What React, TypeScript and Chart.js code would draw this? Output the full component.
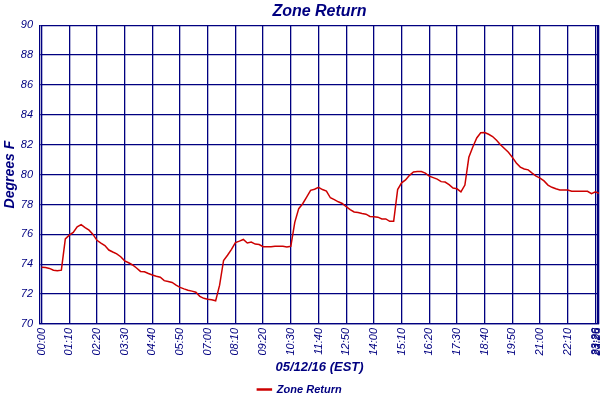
import { useEffect, useRef } from 'react'
import { Chart, registerables } from 'chart.js'

Chart.register(...registerables)

// minutes after midnight, 10 minute samples, last reading at 23:29
const minutes = [
  ...Array.from({ length: 141 }, (_, i) => i * 10),
  1409
]

const zoneReturn = [
  73.8, 73.78, 73.72, 73.6, 73.56, 73.6, 75.7, 75.95, 76.13, 76.5,
  76.65, 76.45, 76.28, 76.0, 75.6, 75.42, 75.25, 74.95, 74.82, 74.7,
  74.5, 74.23, 74.1, 73.95, 73.75, 73.52, 73.5, 73.38, 73.28, 73.2,
  73.13, 72.9, 72.85, 72.78, 72.6, 72.45, 72.35, 72.26, 72.2, 72.13,
  71.85, 71.72, 71.66, 71.62, 71.55, 72.6, 74.25, 74.6, 75.0, 75.45,
  75.55, 75.66, 75.42, 75.48, 75.35, 75.32, 75.17, 75.17, 75.17, 75.21,
  75.21, 75.2, 75.15, 75.2, 76.8, 77.72, 78.05, 78.5, 78.95, 79.02,
  79.15, 79.0, 78.9, 78.45, 78.32, 78.18, 78.07, 77.85, 77.65, 77.5,
  77.46, 77.4, 77.35, 77.2, 77.18, 77.15, 77.03, 77.03, 76.87, 76.87,
  79.0, 79.45, 79.64, 79.95, 80.18, 80.2, 80.2, 80.1, 79.9, 79.8,
  79.7, 79.53, 79.5, 79.33, 79.1, 79.05, 78.85, 79.3, 81.16, 81.85,
  82.45, 82.8, 82.82, 82.7, 82.55, 82.3, 82.0, 81.75, 81.5, 81.15,
  80.78, 80.5, 80.38, 80.32, 80.1, 79.9, 79.77, 79.58, 79.3, 79.15,
  79.05, 78.97, 78.97, 78.97, 78.88, 78.88, 78.88, 78.88, 78.88, 78.72,
  78.85, 78.74
]

const tickMinutes = [
  0, 70, 140, 210, 280, 350, 420, 490, 560, 630, 700,
  770, 840, 910, 980, 1050, 1120, 1190, 1260, 1330, 1400, 1405, 1409
]
const tickLabels = [
  '00:00', '01:10', '02:20', '03:30', '04:40', '05:50', '07:00', '08:10', '09:20', '10:30', '11:40',
  '12:50', '14:00', '15:10', '16:20', '17:30', '18:40', '19:50', '21:00', '22:10', '23:20', '23:25', '23:29'
]

const navy = '#000080'
const sans = "'Liberation Sans', Arial, sans-serif"

// center the title over the plot area rather than the whole canvas
const titleOverPlot = {
  id: 'titleOverPlot',
  afterLayout: (chart) => {
    if (chart.titleBlock) {
      chart.titleBlock.left = chart.chartArea.left
      chart.titleBlock.right = chart.chartArea.right
      chart.titleBlock.width = chart.chartArea.right - chart.chartArea.left
    }
  }
}

const App = () => {
  const chartRef = useRef(null)
  const chartInstance = useRef(null)

  useEffect(() => {
    document.body.style.margin = '0'
    if (chartRef && chartRef.current) {
      const ctx = chartRef.current.getContext('2d')

      if (chartInstance.current) {
        chartInstance.current.destroy()
      }

      chartInstance.current = new Chart(ctx, {
        type: 'line',
        data: {
          datasets: [
            {
              label: 'Zone Return',
              data: minutes.map((m, i) => ({ x: m, y: zoneReturn[i] })),
              borderColor: '#cc0000',
              backgroundColor: '#cc0000',
              borderWidth: 1.5,
              pointRadius: 0,
              tension: 0,
              fill: false
            }
          ]
        },
        plugins: [titleOverPlot],
        options: {
          responsive: false,
          animation: false,
          layout: {
            padding: { top: 2, right: 1, bottom: -5, left: 0 }
          },
          plugins: {
            title: {
              display: true,
              text: 'Zone Return',
              color: navy,
              font: { family: sans, size: 16, weight: 'bold', style: 'italic' },
              padding: { top: 0, bottom: 4 }
            },
            legend: {
              position: 'bottom',
              labels: {
                color: navy,
                boxWidth: 14,
                boxHeight: 1,
                padding: 4,
                font: { family: sans, size: 11, weight: 'bold', style: 'italic' }
              }
            },
            tooltip: { enabled: false }
          },
          scales: {
            x: {
              type: 'linear',
              min: -4,
              max: 1409,
              afterBuildTicks: (axis) => {
                axis.ticks = tickMinutes.map((v) => ({ value: v }))
              },
              afterFit: (axis) => {
                axis.height = 56
                axis.paddingLeft = 0
                axis.paddingRight = 0
              },
              ticks: {
                autoSkip: false,
                minRotation: 90,
                maxRotation: 90,
                padding: 4,
                color: navy,
                font: { family: sans, size: 11, style: 'italic' },
                callback: (value) => tickLabels[tickMinutes.indexOf(value)] ?? ''
              },
              grid: { color: navy, lineWidth: 1.3, drawTicks: false },
              border: { color: navy, width: 1.3 },
              title: {
                display: true,
                text: '05/12/16 (EST)',
                color: navy,
                font: { family: sans, size: 13, weight: 'bold', style: 'italic' },
                padding: { top: 0, bottom: 5 }
              }
            },
            y: {
              min: 70,
              max: 90,
              afterFit: (axis) => {
                axis.width = 40
              },
              ticks: {
                stepSize: 2,
                padding: 7,
                color: navy,
                font: { family: sans, size: 11, style: 'italic' }
              },
              grid: { color: navy, lineWidth: 1.3, drawTicks: false },
              border: { color: navy, width: 1.3 },
              title: {
                display: true,
                text: 'Degrees F',
                color: navy,
                font: { family: sans, size: 14, weight: 'bold', style: 'italic' },
                padding: { top: 2, bottom: 0 }
              }
            }
          }
        }
      })
    }

    return () => {
      if (chartInstance.current) {
        chartInstance.current.destroy()
      }
    }
  }, [])

  return (
    <div style={{ width: 600, height: 400, background: '#fff' }}>
      <canvas ref={chartRef} width={600} height={400} />
    </div>
  )
}

export default App
